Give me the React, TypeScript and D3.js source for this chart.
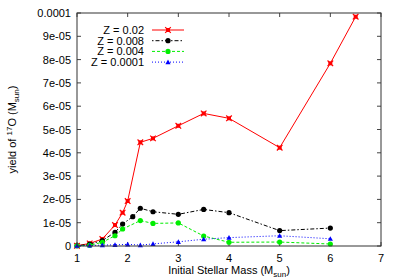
import * as d3 from "d3";
import React from "react";

// initial masses per metallicity track
const massZ02 = [1, 1.25, 1.5, 1.75, 1.9, 2, 2.25, 2.5, 3, 3.5, 4, 5, 6, 6.5];
const yieldZ02 = [0.1e-6, 1.1e-6, 3.0e-6, 9.0e-6, 1.43e-5, 1.93e-5, 4.45e-5, 4.62e-5, 5.16e-5, 5.69e-5, 5.48e-5, 4.22e-5, 7.84e-5, 9.84e-5];

const massZ008 = [1, 1.25, 1.5, 1.75, 1.9, 2.1, 2.25, 2.5, 3, 3.5, 4, 5, 6];
const yieldZ008 = [0.1e-6, 0.8e-6, 2.3e-6, 5.9e-6, 9.4e-6, 1.26e-5, 1.62e-5, 1.47e-5, 1.36e-5, 1.57e-5, 1.43e-5, 6.6e-6, 7.7e-6];

const massZ004 = [1, 1.25, 1.5, 1.75, 1.9, 2.25, 2.5, 3, 3.5, 4, 5, 6];
const yieldZ004 = [0.1e-6, 0.3e-6, 1.6e-6, 4.4e-6, 7.3e-6, 1.09e-5, 9.7e-6, 9.9e-6, 4.3e-6, 1.6e-6, 1.7e-6, 0.86e-6];

const massZ0001 = [1, 1.25, 1.5, 1.75, 2, 2.25, 2.5, 3, 3.5, 4, 5, 6];
const yieldZ0001 = [0.1e-6, 0.2e-6, 0.4e-6, 0.5e-6, 0.7e-6, 0.4e-6, 0.9e-6, 1.8e-6, 2.9e-6, 3.6e-6, 4.4e-6, 3.1e-6];

const xTicks = [1, 2, 3, 4, 5, 6, 7];
const yTicks = [0, 1e-5, 2e-5, 3e-5, 4e-5, 5e-5, 6e-5, 7e-5, 8e-5, 9e-5, 1e-4];
const yTickLabels = ["0", "1e-05", "2e-05", "3e-05", "4e-05", "5e-05", "6e-05", "7e-05", "8e-05", "9e-05", "0.0001"];

const series = [
  { name: "Z = 0.02", mass: massZ02, y: yieldZ02, color: "#ff0000", dash: "none", marker: "x" },
  { name: "Z = 0.008", mass: massZ008, y: yieldZ008, color: "#000000", dash: "1.5,2,4,2", marker: "circle" },
  { name: "Z = 0.004", mass: massZ004, y: yieldZ004, color: "#00ee00", dash: "3,2", marker: "circle" },
  { name: "Z = 0.0001", mass: massZ0001, y: yieldZ0001, color: "#0000ff", dash: "1,2", marker: "triangle" },
];

const width = 400;
const height = 280;
const margin = { left: 77, right: 19, top: 13, bottom: 34 };
const font = "'Liberation Sans', Arial, sans-serif";

function Marker({ type, x, y, color }) {
  if (type === "x") {
    const s = 2.8;
    return (
      <g stroke={color} strokeWidth={1.2}>
        <rect x={x - 2} y={y - 2} width={4} height={4} fill={color} stroke="none" />
        <line x1={x - s} y1={y - s} x2={x + s} y2={y + s} />
        <line x1={x - s} y1={y + s} x2={x + s} y2={y - s} />
      </g>
    );
  }
  if (type === "triangle") {
    const s = 2.6;
    return <path d={`M${x},${y - s}L${x + s},${y + s * 0.8}L${x - s},${y + s * 0.8}Z`} fill={color} />;
  }
  return <circle cx={x} cy={y} r={2.6} fill={color} />;
}

export default function App() {
  const xScale = d3.scaleLinear().domain([1, 7]).range([margin.left, width - margin.right]);
  const yScale = d3.scaleLinear().domain([0, 1e-4]).range([height - margin.bottom, margin.top]);

  const line = d3.line<[number, number]>()
    .x((d) => xScale(d[0]))
    .y((d) => yScale(d[1]));

  const x0 = xScale(1), x1 = xScale(7), y0 = yScale(0), y1 = yScale(1e-4);
  const tick = 4;

  return (
    <svg width={width} height={height} style={{ position: "absolute", left: 0, top: 0, fontFamily: font }}>
      <rect width={width} height={height} fill="#fff" />
      {/* ticks, mirrored on all sides */}
      <g stroke="#444" strokeWidth={1}>
        {xTicks.map((t) => (
          <g key={t}>
            <line x1={xScale(t)} x2={xScale(t)} y1={y0} y2={y0 - tick} />
            <line x1={xScale(t)} x2={xScale(t)} y1={y1} y2={y1 + tick} />
          </g>
        ))}
        {yTicks.map((t) => (
          <g key={t}>
            <line x1={x0} x2={x0 + tick} y1={yScale(t)} y2={yScale(t)} />
            <line x1={x1} x2={x1 - tick} y1={yScale(t)} y2={yScale(t)} />
          </g>
        ))}
      </g>
      <g fontSize={11} fill="#000">
        {xTicks.map((t) => (
          <text key={t} x={xScale(t)} y={y0 + 16} textAnchor="middle">{t}</text>
        ))}
        {yTicks.map((t, i) => (
          <text key={t} x={x0 - 6} y={yScale(t) + 4} textAnchor="end">{yTickLabels[i]}</text>
        ))}
      </g>
      <text x={(x0 + x1) / 2} y={height - 6} textAnchor="middle" fontSize={11}>
        Initial Stellar Mass (M<tspan fontSize={8} dy={3}>sun</tspan><tspan dy={-3}>)</tspan>
      </text>
      <text transform={`translate(16,${(y0 + y1) / 2}) rotate(-90)`} textAnchor="middle" fontSize={11}>
        yield of <tspan fontSize={8} dy={-4}>17</tspan><tspan dy={4}>O (M</tspan><tspan fontSize={8} dy={3}>sun</tspan><tspan dy={-3}>)</tspan>
      </text>
      {series.map((s) => {
        const pts = s.mass.map((m, i) => [m, s.y[i]] as [number, number]);
        return (
          <g key={s.name}>
            <path d={line(pts) || undefined} fill="none" stroke={s.color} strokeWidth={1} strokeDasharray={s.dash} />
            {pts.map((p, i) => (
              <Marker key={i} type={s.marker} x={xScale(p[0])} y={yScale(p[1])} color={s.color} />
            ))}
          </g>
        );
      })}
      {/* legend */}
      <g fontSize={11}>
        {series.map((s, i) => {
          const ly = 30 + i * 10.7;
          return (
            <g key={s.name}>
              <text x={144} y={ly + 4} textAnchor="end">{s.name}</text>
              <line x1={152} x2={184} y1={ly} y2={ly} stroke={s.color} strokeWidth={1} strokeDasharray={s.dash} />
              <Marker type={s.marker} x={168} y={ly} color={s.color} />
            </g>
          );
        })}
      </g>
      <rect x={x0} y={y1} width={x1 - x0} height={y0 - y1} fill="none" stroke="#333" strokeWidth={1} />
    </svg>
  );
}
